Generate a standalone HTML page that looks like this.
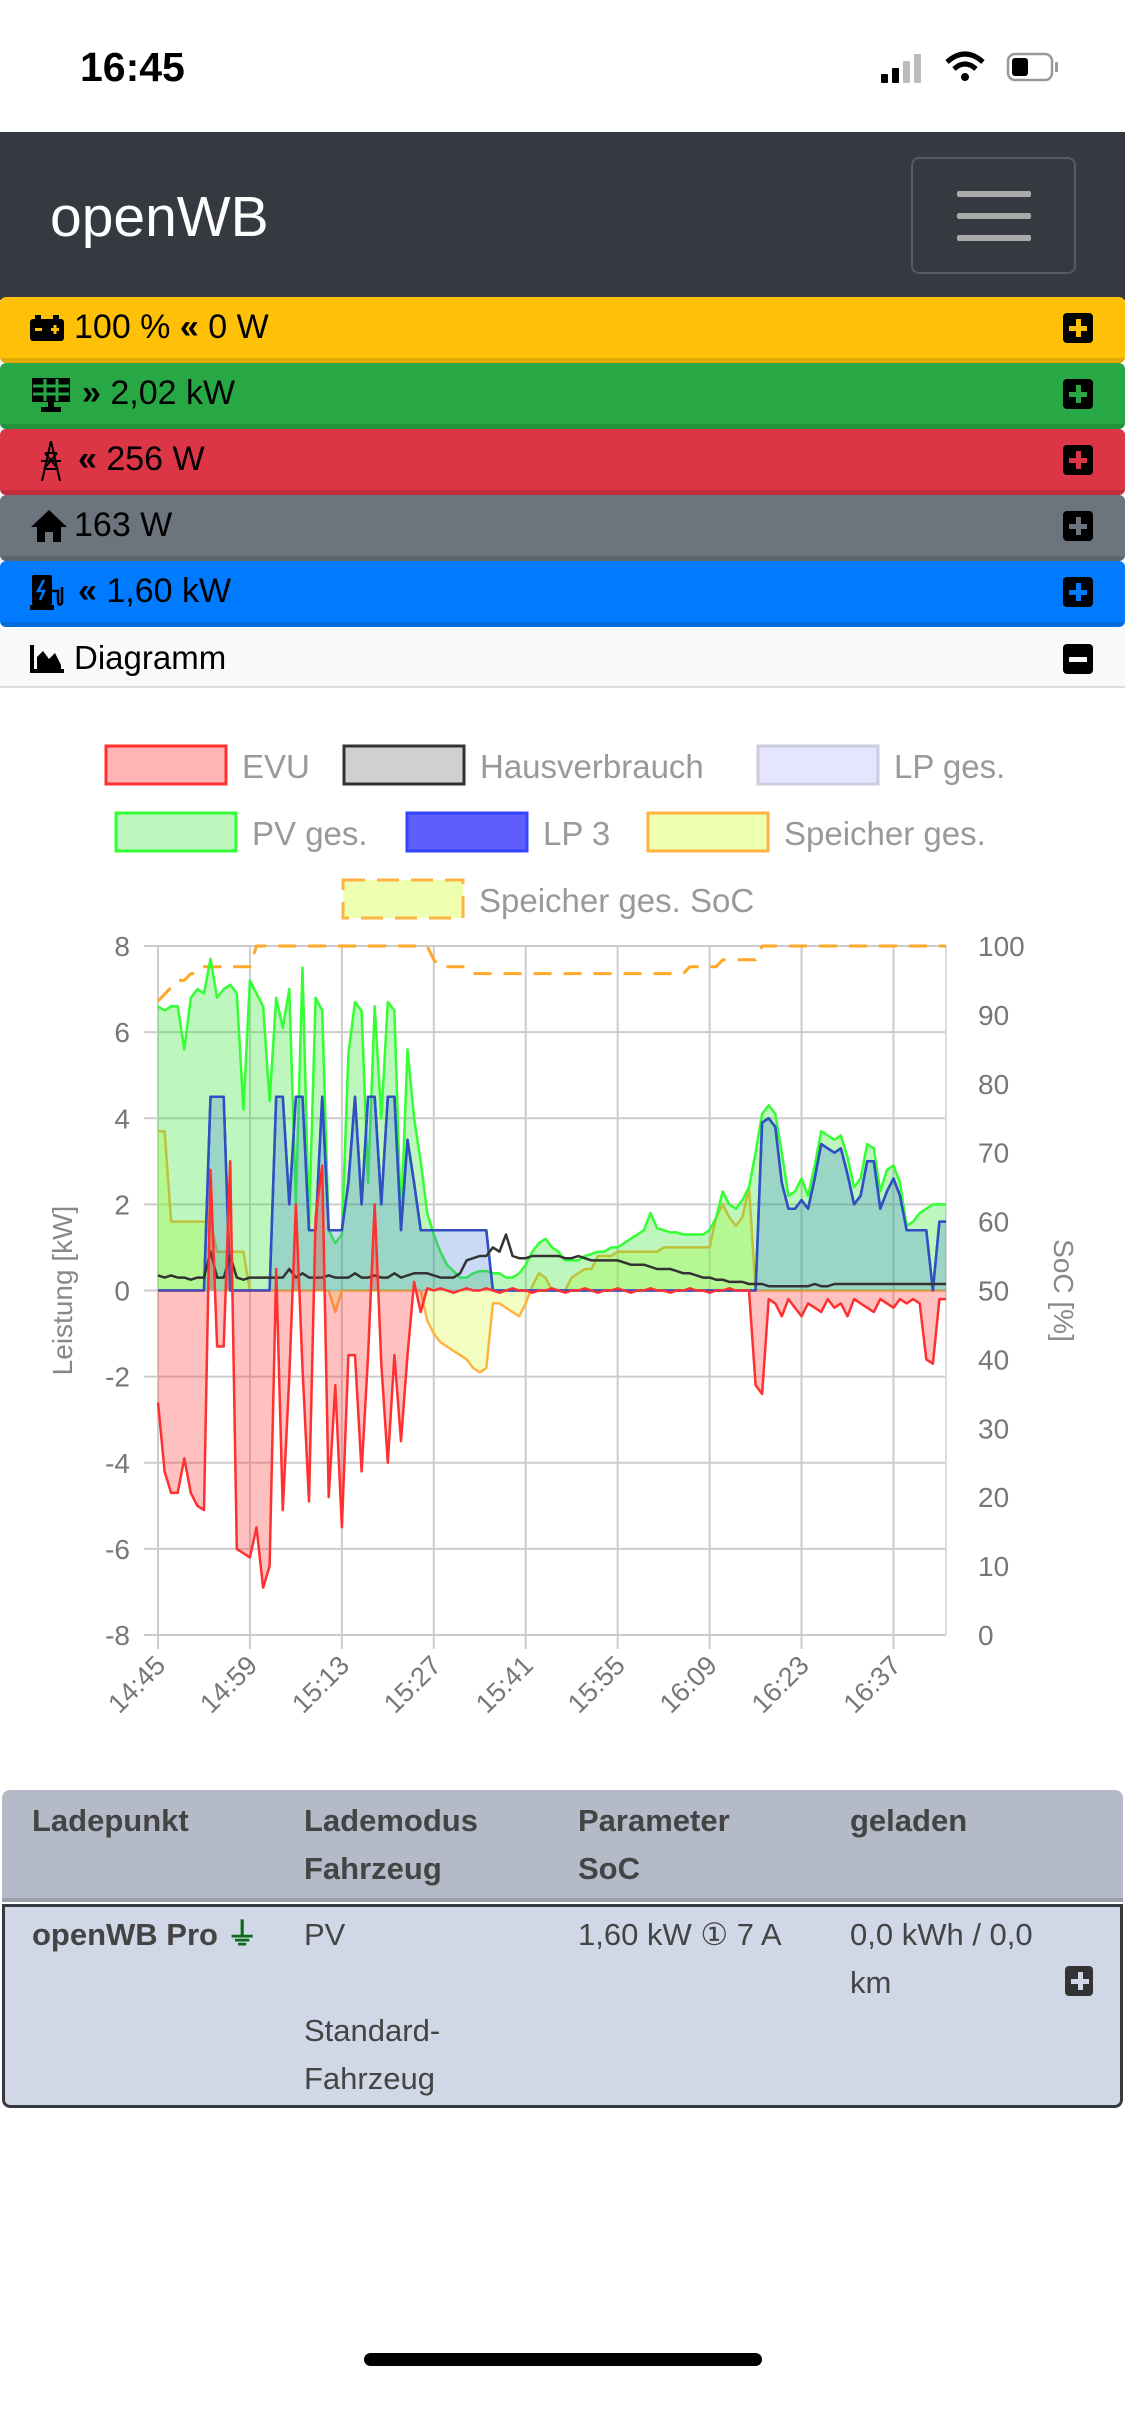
<!DOCTYPE html>
<html><head><meta charset="utf-8">
<style>
*{box-sizing:border-box;margin:0;padding:0}
body{width:1125px;height:2436px;background:#fff;font-family:"Liberation Sans",sans-serif;position:relative;overflow:hidden}
.abs{position:absolute}
.bar{position:absolute;left:0;width:1125px;height:66px;border-radius:6px;border-bottom:5px solid rgba(0,0,0,.12);font-size:34px;color:#000;display:flex;align-items:center}
.bar .txt{position:absolute;left:74px;top:11px}
.plus{position:absolute;right:32px;top:16px;width:30px;height:30px;background:#000;border-radius:4px}
.plus:before,.plus:after{content:"";position:absolute;background:currentColor}
.plus:before{left:13px;top:6px;width:5px;height:18px}
.plus:after{left:6px;top:13px;width:18px;height:5px}
.th{position:absolute;font-weight:bold;color:#444;font-size:31px;line-height:48px}
.td{position:absolute;color:#444;font-size:31px;line-height:48px}
</style></head><body>
<div class="abs" style="left:80px;top:44px;font-size:41px;font-weight:bold">16:45</div>
<svg class="abs" style="left:875px;top:50px" width="210" height="36">
<rect x="6" y="24" width="7" height="9" rx="1" fill="#000"/><rect x="17" y="18" width="7" height="15" rx="1" fill="#000"/><rect x="28" y="11" width="7" height="22" rx="1" fill="#bbb"/><rect x="39" y="4" width="7" height="29" rx="1" fill="#bbb"/>
<path d="M72 12 Q90 -4 108 12" stroke="#000" stroke-width="5" fill="none"/><path d="M79 19 Q90 9 101 19" stroke="#000" stroke-width="5" fill="none"/><circle cx="90" cy="27" r="4" fill="#000"/>
<rect x="133" y="4" width="44" height="26" rx="7" fill="none" stroke="#999" stroke-width="2.5"/><rect x="137" y="8" width="16" height="18" rx="3" fill="#000"/><rect x="180" y="12" width="3" height="10" rx="1" fill="#999"/>
</svg>
<div class="abs" style="left:0;top:132px;width:1125px;height:168px;background:#343a40">
<div class="abs" style="left:50px;top:52px;font-size:57px;color:#fff">openWB</div>
<div class="abs" style="left:911px;top:25px;width:165px;height:117px;border:2px solid #555b61;border-radius:8px">
<div class="abs" style="left:44px;top:32px;width:74px;height:6px;background:#aaa;border-radius:2px"></div>
<div class="abs" style="left:44px;top:54px;width:74px;height:6px;background:#aaa;border-radius:2px"></div>
<div class="abs" style="left:44px;top:76px;width:74px;height:6px;background:#aaa;border-radius:2px"></div></div></div>

<div class="bar" style="top:297px;background:#ffc107"><svg class="abs" style="left:30px;top:18px" width="36" height="26"><rect x="0" y="4" width="34" height="22" rx="3" fill="#000"/><rect x="5" y="0" width="6" height="5" fill="#000"/><rect x="23" y="0" width="6" height="5" fill="#000"/><rect x="5" y="13" width="7" height="3" fill="#ffc107"/><rect x="21" y="13" width="8" height="3" fill="#ffc107"/><rect x="23.5" y="10" width="3" height="9" fill="#ffc107"/></svg><span class="txt">100 % <b>«</b> 0 W</span><div class="plus" style="color:#ffc107"></div></div>
<div class="bar" style="top:363px;background:#28a745"><svg class="abs" style="left:30px;top:15px" width="42" height="36"><rect x="2" y="0" width="38" height="24" fill="#000"/><path d="M15 1V23M27 1V23M3 8H39M3 16H39" stroke="#28a745" stroke-width="3"/><rect x="18" y="24" width="6" height="6" fill="#000"/><rect x="11" y="29" width="20" height="5" fill="#000"/></svg><span class="txt" style="left:82px"><b>»</b> 2,02 kW</span><div class="plus" style="color:#28a745"></div></div>
<div class="bar" style="top:429px;background:#dc3545"><svg class="abs" style="left:36px;top:12px" width="30" height="42"><path d="M15 0L6 40M15 0L24 40M9 12H21M5 20H25M8 28H22M9 12L22 28M21 12L8 28" stroke="#000" stroke-width="2" fill="none"/></svg><span class="txt" style="left:78px"><b>«</b> 256 W</span><div class="plus" style="color:#dc3545"></div></div>
<div class="bar" style="top:495px;background:#6c757d"><svg class="abs" style="left:30px;top:14px" width="38" height="34"><path d="M19 1L1 18H7V33H15V23H23V33H31V18H37Z" fill="#000"/></svg><span class="txt">163 W</span><div class="plus" style="color:#6c757d"></div></div>
<div class="bar" style="top:561px;background:#007bff"><svg class="abs" style="left:30px;top:14px" width="40" height="36"><rect x="2" y="0" width="20" height="30" rx="2" fill="#000"/><path d="M14 5L8 16H14L10 25" stroke="#007bff" stroke-width="2.5" fill="none"/><rect x="0" y="30" width="24" height="5" fill="#000"/><path d="M22 16H28V26Q28 32 32 28V12" stroke="#000" stroke-width="2.5" fill="none"/></svg><span class="txt" style="left:78px"><b>«</b> 1,60 kW</span><div class="plus" style="color:#007bff"></div></div>
<div class="abs" style="left:0;top:628px;width:1125px;height:60px;background:#f8f9fa;border-bottom:2px solid #ddd;font-size:33px">
<svg class="abs" style="left:30px;top:17px" width="34" height="28"><path d="M2 0V26H34" stroke="#000" stroke-width="4" fill="none"/><path d="M7 24V12L13 6L19 14L25 8L31 20V24Z" fill="#000"/></svg>
<span class="abs" style="left:74px;top:11px">Diagramm</span>
<div class="abs" style="right:32px;top:16px;width:30px;height:30px;background:#000;border-radius:4px"><div class="abs" style="left:6px;top:13px;width:18px;height:5px;background:#f8f9fa"></div></div></div>

<svg class="abs" style="left:0;top:688px" width="1125" height="1100" id="chart" font-family="Liberation Sans, sans-serif"></svg>

<div class="abs" style="left:2px;top:1790px;width:1121px;height:318px;border-radius:8px;overflow:hidden">
<div class="abs" style="left:0;top:0;width:1121px;height:112px;background:#b5bac8;border-bottom:4px solid #9aa0ab"></div>
<div class="abs" style="left:0;top:114px;width:1121px;height:204px;background:#d0d7e6;border:3px solid #343a40;border-radius:0 0 8px 8px"></div>
<div class="th" style="left:30px;top:7px">Ladepunkt</div>
<div class="th" style="left:302px;top:7px">Lademodus<br>Fahrzeug</div>
<div class="th" style="left:576px;top:7px">Parameter<br>SoC</div>
<div class="th" style="left:848px;top:7px">geladen</div>
<div class="th" style="left:30px;top:121px">openWB Pro <span style="color:#0a6b1a">&#x23DA;</span></div>
<div class="td" style="left:302px;top:121px">PV<br><br>Standard-<br>Fahrzeug</div>
<div class="td" style="left:576px;top:121px">1,60 kW &#x2460; 7 A</div>
<div class="td" style="left:848px;top:121px">0,0 kWh / 0,0<br>km</div>
<div class="plus" style="right:30px;top:176px;width:28px;height:30px;background:#333;color:#d0d7e6"></div>
</div>
<div class="abs" style="left:364px;top:2353px;width:398px;height:13px;background:#000;border-radius:7px"></div>

<script>
const minutes = Array.from({length:121},(_,i)=>i);
const pvValues=[6.6,6.5,6.6,6.6,5.6,6.8,7.0,6.9,7.7,6.8,7.0,7.1,6.9,4.2,7.2,6.9,6.6,4.4,6.8,6.1,7.0,2.0,7.5,1.5,6.8,6.5,1.4,1.1,1.3,5.5,6.7,6.5,2.5,6.6,4.0,6.7,6.5,1.6,5.6,4.0,3.0,1.8,1.3,0.9,0.6,0.45,0.3,0.3,0.4,0.45,0.45,0.4,0.4,0.3,0.3,0.4,0.6,0.9,1.1,1.2,1.0,0.9,0.7,0.7,0.7,0.8,0.85,0.9,0.9,1.0,1.0,1.1,1.2,1.3,1.4,1.8,1.45,1.4,1.35,1.35,1.3,1.3,1.3,1.3,1.4,1.7,2.3,2.0,1.9,2.1,2.4,3.2,4.1,4.3,4.1,3.2,2.2,2.3,2.6,2.2,2.9,3.7,3.6,3.5,3.6,3.1,2.4,2.6,3.4,3.3,2.3,2.8,2.9,2.5,1.5,1.6,1.8,1.9,2.0,2.0,2.0];
const lpValues=[0,0,0,0,0,0,0,0,4.5,4.5,4.5,0,0,0,0,0,0,0,4.5,4.5,2.0,4.5,4.5,1.4,1.4,4.5,1.4,1.4,1.4,2.5,4.5,2.0,4.5,4.5,2.0,4.5,4.5,1.4,3.5,2.5,1.4,1.4,1.4,1.4,1.4,1.4,1.4,1.4,1.4,1.4,1.4,0,0,0,0,0,0,0,0,0,0,0,0,0,0,0,0,0,0,0,0,0,0,0,0,0,0,0,0,0,0,0,0,0,0,0,0,0,0,0,0,0,3.9,4.0,3.8,2.5,1.9,1.9,2.1,1.9,2.6,3.4,3.3,3.2,3.3,2.7,2.0,2.2,3.0,3.0,1.9,2.3,2.6,2.2,1.4,1.4,1.4,1.4,0,1.6,1.6];
const storageValues=[3.7,3.7,1.6,1.6,1.6,1.6,1.6,1.6,1.6,0.9,0.9,0.9,0.9,0.9,0,0,0,0,0,0,0,0,0,0,0,0,0,-0.5,0,0,0,0,0,0,0,0,0,0,0,0,0,-0.7,-1.0,-1.2,-1.3,-1.4,-1.5,-1.6,-1.8,-1.9,-1.8,-0.3,-0.3,-0.4,-0.5,-0.6,-0.3,0.1,0.4,0.3,0,0,0,0.3,0.4,0.5,0.5,0.8,0.8,0.8,0.9,0.9,0.9,0.9,0.9,0.9,0.9,1.0,1.0,1.0,1.0,1.0,1.0,1.0,1.0,1.7,2.0,1.7,1.5,1.7,2.4,0,0,0,0,0,0,0,0,0,0,0,0,0,0,0,0,0,0,0,0,0,0,0,0,0,0,0,0,0,0];
const gridValues=[-2.6,-4.2,-4.7,-4.7,-3.9,-4.7,-5.0,-5.1,2.8,-1.3,-1.3,3.0,-6.0,-6.1,-6.2,-5.5,-6.9,-6.4,0.5,-5.1,-2.0,2.0,-1.8,-4.9,1.7,2.9,-4.8,-2.2,-5.5,-1.5,-1.5,-4.2,-1.5,2.0,-1.7,-4.0,-1.5,-3.5,-1.5,0.2,-0.5,0.05,0,0.05,0,-0.05,0,0.05,0,0,0.05,0,-0.05,0,0.05,0,0,-0.05,0,0,0.05,0,-0.05,0,0,0.05,0,-0.05,0,0,0.05,0,-0.05,0,0,0.05,0,0,-0.05,0,0,0.05,0,0,-0.05,0,0,0.05,0,0,0,-2.2,-2.4,-0.2,-0.3,-0.6,-0.2,-0.4,-0.6,-0.3,-0.4,-0.5,-0.2,-0.4,-0.3,-0.6,-0.2,-0.3,-0.4,-0.5,-0.2,-0.3,-0.4,-0.2,-0.3,-0.2,-0.3,-1.6,-1.7,-0.2,-0.2];
const houseValues=[0.35,0.3,0.35,0.3,0.3,0.25,0.3,0.3,0.9,0.3,0.3,0.8,0.3,0.25,0.3,0.3,0.3,0.3,0.3,0.3,0.5,0.3,0.4,0.3,0.3,0.3,0.35,0.3,0.3,0.3,0.4,0.3,0.3,0.35,0.3,0.3,0.4,0.3,0.35,0.4,0.4,0.4,0.35,0.3,0.3,0.3,0.4,0.7,0.75,0.8,0.8,1.0,0.9,1.3,0.8,0.75,0.75,0.8,0.8,0.8,0.8,0.8,0.75,0.75,0.8,0.75,0.7,0.7,0.7,0.7,0.7,0.65,0.6,0.6,0.6,0.55,0.5,0.5,0.5,0.45,0.4,0.4,0.35,0.3,0.3,0.25,0.25,0.2,0.2,0.2,0.15,0.15,0.15,0.1,0.1,0.1,0.1,0.1,0.1,0.1,0.15,0.1,0.1,0.15,0.15,0.15,0.15,0.15,0.15,0.15,0.15,0.15,0.15,0.15,0.15,0.15,0.15,0.15,0.15,0.15,0.15];
const socValues=[92,93,94,95,95,96,96,97,97,97,97,97,97,97,97,100,100,100,100,100,100,100,100,100,100,100,100,100,100,100,100,100,100,100,100,100,100,100,100,100,100,100,98,97,97,97,97,97,96,96,96,96,96,96,96,96,96,96,96,96,96,96,96,96,96,96,96,96,96,96,96,96,96,96,96,96,96,96,96,96,96,97,97,97,97,97,98,98,98,98,98,98,100,100,100,100,100,100,100,100,100,100,100,100,100,100,100,100,100,100,100,100,100,100,100,100,100,100,100,100,100];
const yTicks=[8,6,4,2,0,-2,-4,-6,-8];
const socTicks=[100,90,80,70,60,50,40,30,20,10,0];
const xTickLabels=["14:45","14:59","15:13","15:27","15:41","15:55","16:09","16:23","16:37"];
const xTickMinutes=[0,14,28,42,56,70,84,98,112];
const legendNames=["EVU","Hausverbrauch","LP ges.","PV ges.","LP 3","Speicher ges.","Speicher ges. SoC"];

const svg=document.getElementById('chart');
const NS='http://www.w3.org/2000/svg';
const L=158,R=946,T=258,B=947;
const xS=m=>L+(m/120)*(R-L);
const yS=v=>T+(8-v)/16*(B-T);
const sS=v=>T+(100-v)/100*(B-T);
function el(tag,attrs,parent){const e=document.createElementNS(NS,tag);for(const k in attrs)e.setAttribute(k,attrs[k]);(parent||svg).appendChild(e);return e;}

yTicks.forEach(v=>{const l=el('line',{x1:L-14,x2:R,y1:yS(v),y2:yS(v),stroke:'#ccc','stroke-width':2});

const t=el('text',{x:L-28,y:yS(v)+10,'text-anchor':'end','font-size':28,fill:'#777'});t.textContent=v;
});
socTicks.forEach(v=>{const t=el('text',{x:R+32,y:sS(v)+10,'font-size':28,fill:'#777'});t.textContent=v;
});
xTickMinutes.forEach((m,i)=>{const l=el('line',{x1:xS(m),x2:xS(m),y1:T,y2:B+14,stroke:'#ccc','stroke-width':2});

const t=el('text',{x:0,y:0,'text-anchor':'end','font-size':27,fill:'#777',transform:`translate(${xS(m)+9},${B+32}) rotate(-45)`});t.textContent=xTickLabels[i];
});
el('line',{x1:R,x2:R,y1:T,y2:B,stroke:'#ddd','stroke-width':2});

function series(vals,sc,stroke,fill,name,dash){
  let d='';vals.forEach((v,i)=>{d+=(i?'L':'M')+xS(minutes[i]).toFixed(1)+' '+sc(v).toFixed(1);});
  if(fill){const a=el('path',{d:d+`L${xS(120)} ${yS(0)}L${xS(0)} ${yS(0)}Z`,fill:fill,stroke:'none'});
    }
  const p=el('path',{d:d,fill:'none',stroke:stroke,'stroke-width':dash?3:2.5,'stroke-dasharray':dash||'none','stroke-linejoin':'round'});
  
}
series(socValues,sS,'#ffa726',null,'soc','18,12');
series(storageValues,yS,'#ffb340','rgba(220,255,80,0.35)','storage');
series(pvValues,yS,'#33ff33','rgba(40,230,40,0.3)','pv');
series(lpValues,yS,'#3344ff','rgba(80,80,255,0.12)','lp-total');
series(lpValues,yS,'#3050c0','rgba(60,150,200,0.18)','lp3');
series(houseValues,yS,'#333','none','house');
series(gridValues,yS,'#ff3030','rgba(255,60,60,0.32)','grid');

let t=el('text',{x:0,y:0,'text-anchor':'middle','font-size':28,fill:'#888',transform:`translate(72,${yS(0)}) rotate(-90)`});t.textContent='Leistung [kW]';

t=el('text',{x:0,y:0,'text-anchor':'middle','font-size':28,fill:'#888',transform:`translate(1054,${yS(0)}) rotate(90)`});t.textContent='SoC [%]';


const legendPos=[[106,78],[344,78],[758,78],[116,145],[407,145],[648,145],[343,212]];
const legendStyle=[['rgba(255,90,90,0.45)','#ff3030'],['rgba(120,120,120,0.35)','#333'],['rgba(150,150,255,0.25)','#ccd'],['rgba(40,230,40,0.3)','#33ff33'],['rgba(40,40,255,0.75)','#3344ff'],['rgba(220,255,80,0.45)','#ffb340'],['rgba(220,255,80,0.45)','#ffb340']];
legendNames.forEach((n,i)=>{const [x,y]=legendPos[i];
  const g=el('g',{});
  el('rect',{x:x,y:y-20,width:120,height:38,fill:legendStyle[i][0],stroke:legendStyle[i][1],'stroke-width':3,'stroke-dasharray':i==6?'22,12':'none'},g);
  const tx=el('text',{x:x+136,y:y+12,'font-size':33,fill:'#999'},g);tx.textContent=n;});
</script>
</body></html>
